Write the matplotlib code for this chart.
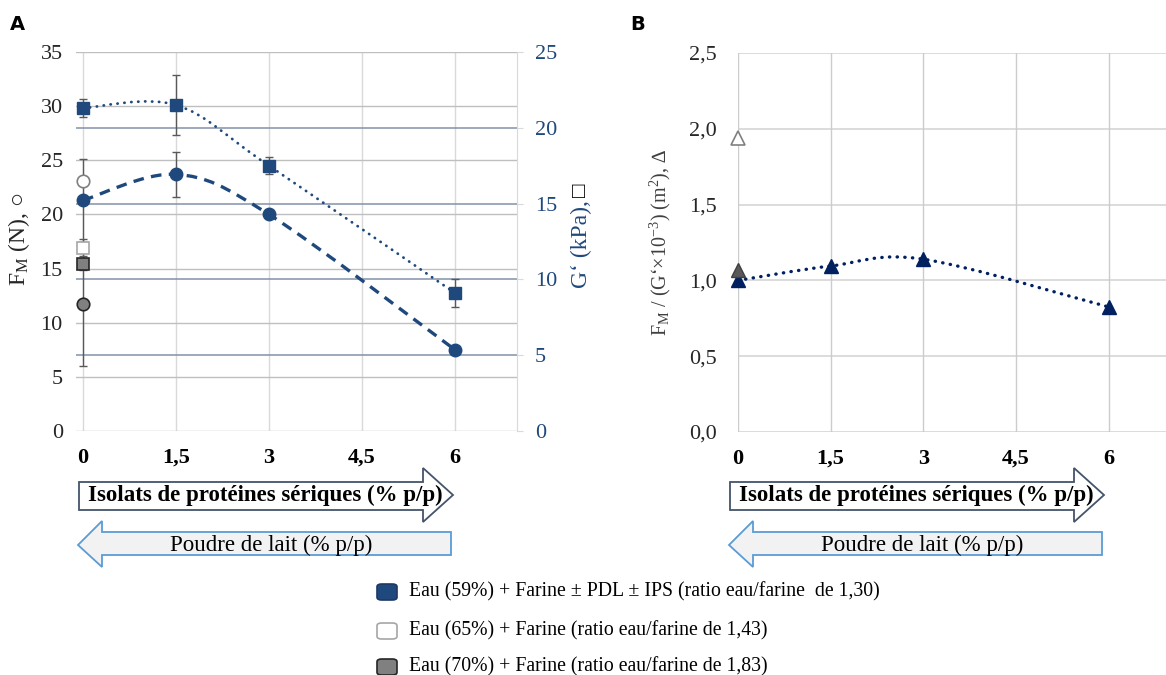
import numpy as np
import matplotlib
matplotlib.use("Agg")
import matplotlib.pyplot as plt
from matplotlib.path import Path
from matplotlib.patches import PathPatch, Polygon, FancyBboxPatch
from matplotlib.transforms import blended_transform_factory

# ---- data ----
x_levels = [0, 1.5, 3, 6]
x_ticks = [0, 1.5, 3, 4.5, 6]
x_tick_labels = ["0", "1,5", "3", "4,5", "6"]

# panel A, left axis: maximal force F_M (N)
fm_59 = [21.3, 23.7, 20.0, 7.5]
fm_59_err = [3.8, 2.05, 0.3, 0.3]
fm_65 = [23.1]
fm_65_err = [0.3]
fm_70 = [11.7]
fm_70_err = [5.7]

# panel A, right axis: G' (kPa)
g_59 = [21.3, 21.5, 17.5, 9.1]
g_59_err = [0.6, 2.0, 0.55, 0.9]
g_65 = [12.1]
g_65_err = [0.55]
g_70 = [11.0]
g_70_err = [0.4]

# panel B: F_M / (G' x 10^-3)
ratio_59 = [1.0, 1.095, 1.14, 0.825]
ratio_65 = [1.94]
ratio_70 = [1.07]

fm_ticks = [0, 5, 10, 15, 20, 25, 30, 35]
g_ticks = [0, 5, 10, 15, 20, 25]
ratio_ticks = [0.0, 0.5, 1.0, 1.5, 2.0, 2.5]
ratio_tick_labels = ["0,0", "0,5", "1,0", "1,5", "2,0", "2,5"]

legend_labels = [
    "Eau (59%) + Farine \u00b1 PDL \u00b1 IPS (ratio eau/farine  de 1,30)",
    "Eau (65%) + Farine (ratio eau/farine de 1,43)",
    "Eau (70%) + Farine (ratio eau/farine de 1,83)",
]
arrow_up_label = "Isolats de prot\u00e9ines s\u00e9riques (% p/p)"
arrow_down_label = "Poudre de lait (% p/p)"

# ---- style ----
SERIF = ["Liberation Serif", "DejaVu Sans"]
plt.rcParams["font.family"] = SERIF
plt.rcParams["mathtext.fontset"] = "custom"
plt.rcParams["mathtext.rm"] = "Liberation Serif"
plt.rcParams["mathtext.it"] = "Liberation Serif:italic"

BLUE = "#1f497d"
NAVY = "#002060"
ERR = "#595959"
TICK_FS = 16
W, H = 1166, 675


def fx(x):
    return x / W


def fy(y):
    return 1 - y / H


def smooth_path(xs, ys):
    """Excel-like smoothed line (Catmull-Rom as cubic bezier)"""
    pts = np.column_stack([xs, ys]).astype(float)
    ext = np.vstack([pts[0], pts, pts[-1]])
    verts = [pts[0]]
    codes = [Path.MOVETO]
    for i in range(len(pts) - 1):
        p0, p1, p2, p3 = ext[i], ext[i + 1], ext[i + 2], ext[i + 3]
        verts += [p1 + (p2 - p0) / 6, p2 - (p3 - p1) / 6, p2]
        codes += [Path.CURVE4] * 3
    return Path(verts, codes)


fig = plt.figure(figsize=(W / 100, H / 100), dpi=100)

# ---- panel A ----
axA2 = fig.add_axes([fx(76), fy(431), fx(517) - fx(76), fy(52) - fy(431)])
axA = axA2.twinx()
# right-axis layer (grids, G' lines) sits behind the left-axis layer
axA2.set_zorder(1)
axA.set_zorder(2)
axA.patch.set_visible(False)
axA2.patch.set_visible(True)
axA2.patch.set_facecolor("white")
axA.yaxis.tick_left()
axA2.yaxis.tick_right()

axA2.set_xlim(-0.113, 7.0)
axA.set_ylim(0, 35)
axA2.set_ylim(0, 25)

tr_left = blended_transform_factory(axA2.transAxes, axA.transData)
for v in fm_ticks:
    axA2.plot([0, 1], [v, v], transform=tr_left, color="#bfbfbf", lw=1.0, zorder=0.5)
for v in g_ticks[1:-1]:
    axA2.axhline(v, color="#8391a8", lw=1.1, zorder=0.6)
for v in x_ticks:
    axA2.axvline(v, color="#d9d9d9", lw=1.0, zorder=0.4)

# G' (right axis): error bars + smoothed dotted line
axA2.errorbar(x_levels, g_59, yerr=g_59_err, fmt="none", ecolor=ERR, elinewidth=1, capsize=3, zorder=2)
axA2.errorbar([0], g_65, yerr=g_65_err, fmt="none", ecolor=ERR, elinewidth=1, capsize=3, zorder=2)
axA2.errorbar([0], g_70, yerr=g_70_err, fmt="none", ecolor=ERR, elinewidth=1, capsize=3, zorder=2)
axA2.add_patch(PathPatch(smooth_path(x_levels, g_59), fill=False, edgecolor=BLUE, lw=2.0,
                         linestyle=(0, (0.1, 2.4)), capstyle="round", zorder=3))

# F_M circles (left axis)
axA.errorbar(x_levels, fm_59, yerr=fm_59_err, fmt="none", ecolor=ERR, elinewidth=1, capsize=3, zorder=2)
axA.errorbar([0], fm_65, yerr=fm_65_err, fmt="none", ecolor=ERR, elinewidth=1, capsize=3, zorder=2)
axA.errorbar([0], fm_70, yerr=fm_70_err, fmt="none", ecolor=ERR, elinewidth=1, capsize=3, zorder=2)
axA.add_patch(PathPatch(smooth_path(x_levels, fm_59), fill=False, edgecolor=BLUE, lw=2.4,
                        linestyle=(0, (3.2, 2.2)), zorder=3))
axA.plot(x_levels, fm_59, "o", ms=9, mfc=BLUE, mec=BLUE, zorder=4)
axA.plot([0], fm_65, "o", ms=9, mfc="white", mec="#808080", mew=1.2, zorder=4)
axA.plot([0], fm_70, "o", ms=9, mfc="#808080", mec="#262626", mew=1.2, zorder=4)

# G' square markers on the top layer, still in right-axis data coords
g_tr = axA2.transData
axA.plot(x_levels, g_59, "s", ms=9, mfc=BLUE, mec=BLUE, zorder=5, transform=g_tr)
axA.plot([0], g_65, "s", ms=8.5, mfc="white", mec="#a6a6a6", mew=1.2, zorder=5, transform=g_tr)
axA.plot([0], g_70, "s", ms=8.5, mfc="#808080", mec="#262626", mew=1.2, zorder=5, transform=g_tr)
axA.set_ylim(0, 35)

for a in (axA, axA2):
    for s in a.spines.values():
        s.set_visible(False)
axA2.spines["right"].set_visible(True)
axA2.spines["right"].set_color("#d9d9d9")

axA.set_yticks(fm_ticks)
axA.tick_params(axis="y", length=0, pad=9.5, labelsize=TICK_FS, labelcolor="#262626")
axA2.set_yticks(g_ticks)
axA2.tick_params(axis="y", length=4, color="#d9d9d9", pad=9, labelsize=TICK_FS, labelcolor=BLUE)
axA2.set_xticks(x_ticks)
axA2.set_xticklabels(x_tick_labels, fontweight="bold")
axA2.tick_params(axis="x", length=0, pad=12, labelsize=TICK_FS, labelbottom=True)

fig.text(fx(19), fy(239), "F$_\\mathrm{M}$ (N), \u25cb", rotation=90, ha="center", va="center",
         fontsize=17, family=SERIF, color="#262626")
g_lab = fig.text(fx(581), fy(288), "G\u2018 (kPa),", rotation=90, rotation_mode="anchor",
                 ha="left", va="center", fontsize=17, color=BLUE)
axA.annotate("\u25a1", xy=(0.5, 1), xycoords=g_lab, xytext=(0, 2), textcoords="offset points",
             ha="center", va="bottom", rotation=90, fontsize=16, family=SERIF, color="black",
             annotation_clip=False)

# ---- panel B ----
axB = fig.add_axes([fx(738), fy(432), 1 - fx(738), fy(53) - fy(432)])
axB.set_xlim(0, 6.93)
axB.set_ylim(0, 2.5)
for v in ratio_ticks:
    axB.axhline(v, color="#d9d9d9", lw=1.3, zorder=0.5)
for v in x_ticks:
    axB.axvline(v, color="#cccccc", lw=1.0, zorder=0.5)
axB.add_patch(PathPatch(smooth_path(x_levels, ratio_59), fill=False, edgecolor=NAVY, lw=2.4,
                        linestyle=(0, (0.1, 2.2)), capstyle="round", zorder=3))
axB.plot(x_levels, ratio_59, "^", ms=10, mfc=NAVY, mec=NAVY, zorder=4, clip_on=False)
axB.plot([0], ratio_65, "^", ms=9.5, mfc="white", mec="#808080", mew=1.2, zorder=4, clip_on=False)
axB.plot([0], ratio_70, "^", ms=9.5, mfc="#595959", mec="#404040", mew=1.0, zorder=4, clip_on=False)
for s in axB.spines.values():
    s.set_visible(False)
axB.set_yticks(ratio_ticks)
axB.set_yticklabels(ratio_tick_labels)
axB.tick_params(axis="y", length=0, pad=15, labelsize=TICK_FS, labelcolor="#262626")
axB.set_xticks(x_ticks)
axB.set_xticklabels(x_tick_labels, fontweight="bold")
axB.tick_params(axis="x", length=0, pad=12, labelsize=TICK_FS)

fig.text(fx(660), fy(242), "F$_\\mathrm{M}$ / (G\u2018\u00d710$^{-3}$) (m$^{2}$), \u2206", rotation=90,
         ha="center", va="center", fontsize=14.5, family=SERIF, color="#404040")

# ---- panel letters ----
fig.text(fx(17), fy(24), "A", fontsize=14, fontweight="bold", family="DejaVu Sans", ha="center", va="center")
fig.text(fx(638), fy(24), "B", fontsize=14, fontweight="bold", family="DejaVu Sans", ha="center", va="center")

# ---- direction arrows under each panel ----
for dx in (0, 651):
    up = [(79, 482), (423, 482), (423, 468), (453, 495), (423, 522), (423, 510), (79, 510)]
    down = [(78, 545), (102, 521), (102, 532), (451, 532), (451, 555), (102, 555), (102, 567)]
    fig.add_artist(Polygon([(fx(x + dx), fy(y)) for x, y in up], closed=True,
                           facecolor="white", edgecolor="#44546a", lw=1.3, transform=fig.transFigure))
    fig.add_artist(Polygon([(fx(x + dx), fy(y)) for x, y in down], closed=True,
                           facecolor="#f2f2f2", edgecolor="#5b9bd5", lw=1.3, transform=fig.transFigure))
    fig.text(fx(265 + dx), fy(495), arrow_up_label, fontsize=16.5, fontweight="bold", ha="center", va="center")
    fig.text(fx(271 + dx), fy(545), arrow_down_label, fontsize=16.5, ha="center", va="center")

# ---- legend ----
legend_faces = [BLUE, "white", "#808080"]
legend_edges = ["#1f3864", "#a6a6a6", "#262626"]
legend_rows = [592, 631, 667]
for label, fc, ec, yy in zip(legend_labels, legend_faces, legend_edges, legend_rows):
    fig.add_artist(FancyBboxPatch((fx(377), fy(yy + 8)), fx(20), fy(yy - 8) - fy(yy + 8),
                                  boxstyle="round,pad=0,rounding_size=0.004", facecolor=fc,
                                  edgecolor=ec, lw=1.2, transform=fig.transFigure))
    fig.text(fx(409), fy(yy), label, fontsize=14.2, ha="left", va="center")

fig.savefig("out.png", dpi=100)
